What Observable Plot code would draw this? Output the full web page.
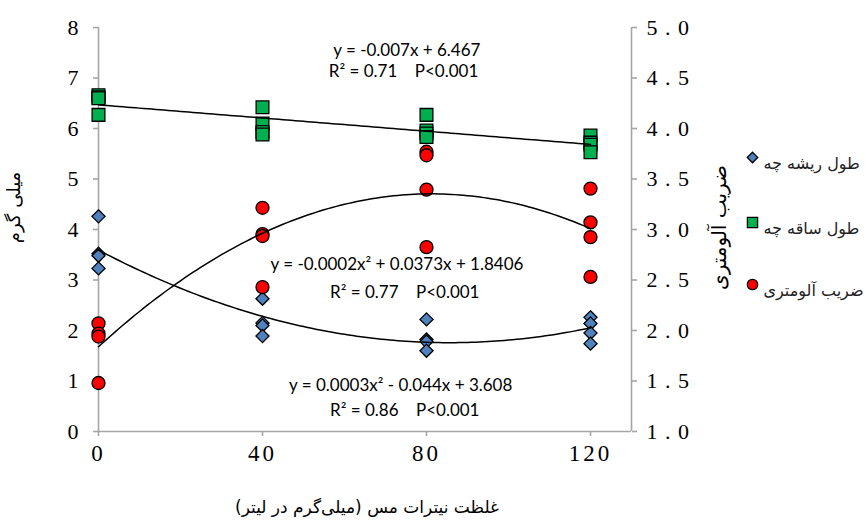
<!DOCTYPE html>
<html>
<head>
<meta charset="utf-8">
<script src="https://cdn.jsdelivr.net/npm/d3@7"></script>
<script src="https://cdn.jsdelivr.net/npm/@observablehq/plot@0.6"></script>
<style>
  html, body { margin: 0; padding: 0; background: white; }
  #chart { width: 866px; height: 527px; }
  g[aria-label="x-axis tick label"] text { letter-spacing: 3px; }
  g[aria-label="y-axis tick label"] text { letter-spacing: 1px; }
</style>
</head>
<body>
<div id="chart"></div>
<script>
// ---- data ----
const doses = [0, 40, 80, 120];                       // copper nitrate, mg/L
const leftTicks = [0, 1, 2, 3, 4, 5, 6, 7, 8];         // mg (left axis)
const rightTicks = [1.0, 1.5, 2.0, 2.5, 3.0, 3.5, 4.0, 4.5, 5.0]; // allometric coefficient
const seriesNames = ["طول ریشه چه", "طول ساقه چه", "ضریب آلومتری"];
// root length (left axis), 4 replicates per dose
const rootLength = [
  [4.26, 3.52, 3.48, 3.23],
  [2.63, 2.15, 2.10, 1.89],
  [2.22, 1.82, 1.78, 1.60],
  [2.26, 2.14, 1.95, 1.74]
];
// stem length (left axis)
const stemLength = [
  [6.66, 6.62, 6.60, 6.27],
  [6.42, 6.10, 5.93, 5.88],
  [6.27, 5.96, 5.90, 5.83],
  [5.86, 5.72, 5.68, 5.53]
];
// allometric coefficient (right axis units)
const allometry = [
  [2.07, 1.97, 1.94, 1.48],
  [3.215, 2.955, 2.935, 2.43],
  [3.77, 3.735, 3.395, 2.825],
  [3.405, 3.07, 2.925, 2.53]
];
const equations = [
  ["y = -0.007x + 6.467", "R² = 0.71    P<0.001"],
  ["y = -0.0002x² + 0.0373x + 1.8406", "R² = 0.77    P<0.001"],
  ["y = 0.0003x² - 0.044x + 3.608", "R² = 0.86    P<0.001"]
];
const xTitle = "غلظت نیترات مس (میلی‌گرم در لیتر)";
const yTitle = "میلی گرم";
const y2Title = "ضریب آلومتری";

// right axis (1..5) shares the left axis pixels (0..8)
const toLeft = r => (r - 1) * 2;
const toRight = l => 1 + l / 2;

const rows = (arr, f = v => v) => doses.flatMap((d, i) => arr[i].map(v => ({x: d, y: f(v)})));
const rootRows = rows(rootLength);
const stemRows = rows(stemLength);
const alloRows = rows(allometry, toLeft);

// least-squares polynomial trend lines (as the spreadsheet does)
function polyfit(pts, deg) {
  const n = deg + 1;
  const A = Array.from({length: n}, () => new Array(n + 1).fill(0));
  for (const p of pts) {
    for (let i = 0; i < n; i++) {
      for (let j = 0; j < n; j++) A[i][j] += Math.pow(p.x, i + j);
      A[i][n] += p.y * Math.pow(p.x, i);
    }
  }
  for (let c = 0; c < n; c++) {
    let piv = c;
    for (let r = c + 1; r < n; r++) if (Math.abs(A[r][c]) > Math.abs(A[piv][c])) piv = r;
    [A[c], A[piv]] = [A[piv], A[c]];
    for (let r = 0; r < n; r++) {
      if (r === c) continue;
      const f = A[r][c] / A[c][c];
      for (let k = c; k <= n; k++) A[r][k] -= f * A[c][k];
    }
  }
  const coef = A.map((row, i) => row[n] / row[i]);
  return x => coef.reduce((s, c, i) => s + c * Math.pow(x, i), 0);
}
const xs = d3.range(0, 120.01, 1);
const fitRoot = polyfit(rootRows, 2);
const fitStem = polyfit(stemRows, 1);
const fitAllo = polyfit(rows(allometry), 2);
const trend = [
  ...xs.map(x => ({x, y: fitRoot(x), k: "root"})),
  ...xs.map(x => ({x, y: fitStem(x), k: "stem"})),
  ...xs.map(x => ({x, y: toLeft(fitAllo(x)), k: "allo"}))
];

const gray = "#a6a6a6";
const serif = "'Liberation Serif', 'Times New Roman', serif";
const sans = "Lato";
const arabic = "DejaVu Sans";
const symbolsStyle = [
  {symbol: "diamond2", r: 5.9, fill: "#4f81bd"},
  {symbol: "square", r: 7.2, fill: "#00b050"},
  {symbol: "circle", r: 6.5, fill: "#ff0000"}
];
const legendDy = [130, 195, 257];

const legendMarks = seriesNames.flatMap((name, i) => [
  Plot.dot([name], {frameAnchor: "top-left", dx: 654, dy: legendDy[i], ...symbolsStyle[i],
    r: symbolsStyle[i].r * 0.8, stroke: "black", strokeWidth: 1.3}),
  Plot.text([name], {frameAnchor: "top-left", dx: 665, dy: legendDy[i], textAnchor: "start",
    fontFamily: arabic, fontSize: 16, fill: "#222"})
]);

const eqPos = [[75.2, 7.545, 74.4, 7.135], [72.8, 3.307, 74.7, 2.758], [73.7, 0.911, 74.7, 0.416]];
const eqMarks = equations.flatMap((lines, i) => [
  Plot.text([lines[0]], {x: eqPos[i][0], y: eqPos[i][1], fontFamily: sans, fontSize: 17, fill: "black"}),
  Plot.text([lines[1]], {x: eqPos[i][2], y: eqPos[i][3], fontFamily: sans, fontSize: 17, fill: "black"})
]);

const chart = Plot.plot({
  width: 866,
  height: 527,
  marginLeft: 98,
  marginRight: 235,
  marginTop: 27,
  marginBottom: 96,
  x: {domain: [0, 130]},
  y: {domain: [0, 8]},
  style: {background: "white", fontFamily: serif, fontSize: "22px", color: "black", overflow: "visible"},
  marks: [
    Plot.ruleX([0], {stroke: gray, strokeWidth: 1.6}),
    Plot.ruleX([130], {stroke: gray, strokeWidth: 1.6}),
    Plot.ruleY([0], {stroke: gray, strokeWidth: 1.6}),
    Plot.axisY({ticks: leftTicks, tickSize: 5, tickPadding: 14, stroke: gray, strokeWidth: 1.6,
      label: null, fontSize: 22, fontFamily: serif, fill: "black"}),
    Plot.axisY({anchor: "right", ticks: rightTicks.map(toLeft), tickSize: 5, tickPadding: 10, stroke: gray, strokeWidth: 1.6,
      label: null, fontSize: 22, fontFamily: serif, fill: "black",
      tickFormat: v => toRight(v).toFixed(1).split("").join(" ")}),
    Plot.axisX({ticks: doses, tickSize: 5, tickPadding: 8, stroke: gray, strokeWidth: 1.6,
      label: null, fontSize: 23, fontFamily: serif, fill: "black"}),
    Plot.text([yTitle], {frameAnchor: "left", textAnchor: "middle", dx: -84, dy: -22, rotate: -90, fontFamily: arabic, fontSize: 18, fill: "black"}),
    Plot.text([y2Title], {frameAnchor: "right", textAnchor: "middle", dx: 88, dy: -2, rotate: -90, fontFamily: arabic, fontSize: 20, fill: "black"}),
    Plot.text([xTitle], {frameAnchor: "bottom", dx: 2, dy: 81, fontFamily: arabic, fontSize: 17, fill: "black"}),
    Plot.dot(rootRows, {x: "x", y: "y", ...symbolsStyle[0], stroke: "black", strokeWidth: 1.3}),
    Plot.dot(stemRows, {x: "x", y: "y", ...symbolsStyle[1], stroke: "black", strokeWidth: 1.3}),
    Plot.dot(alloRows, {x: "x", y: "y", ...symbolsStyle[2], stroke: "black", strokeWidth: 1.3}),
    Plot.line(trend, {x: "x", y: "y", z: "k", stroke: "black", strokeWidth: 1.5}),
    ...eqMarks,
    ...legendMarks
  ]
});
document.getElementById("chart").appendChild(chart);
</script>
</body>
</html>
